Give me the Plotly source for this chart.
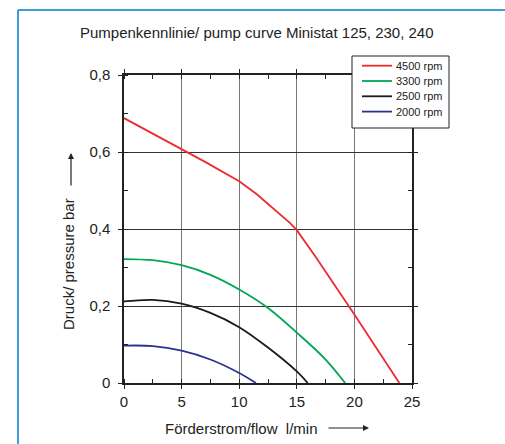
import plotly.graph_objects as go

# Data
x_4500 = [0, 5, 7, 10, 11.5, 14.4, 15, 16.6, 20, 23.9]
y_4500 = [0.688, 0.608, 0.575, 0.524, 0.491, 0.416, 0.397, 0.329, 0.178, 0.0]

x_3300 = [0, 2.5, 5, 7.5, 10, 12.5, 15, 17.5, 19.2]
y_3300 = [0.322, 0.319, 0.306, 0.281, 0.243, 0.195, 0.131, 0.061, 0.0]

x_2500 = [0, 2.5, 5, 7.5, 10, 12.5, 15, 15.95]
y_2500 = [0.212, 0.216, 0.206, 0.182, 0.145, 0.092, 0.030, 0.0]

x_2000 = [0, 2.5, 5, 7.5, 10, 11.45]
y_2000 = [0.097, 0.096, 0.084, 0.061, 0.026, 0.0]

names = ["4500 rpm", "3300 rpm", "2500 rpm", "2000 rpm"]
colors = ["#ee2a2f", "#00a651", "#1a1a1a", "#2b3192"]
xs_all = [x_4500, x_3300, x_2500, x_2000]
ys_all = [y_4500, y_3300, y_2500, y_2000]
shapes_kind = ["linear", "spline", "spline", "spline"]

y_tickvals = [0, 0.2, 0.4, 0.6, 0.8]
y_ticktext = ["0", "0,2", "0,4", "0,6", "0,8"]
x_tickvals = [0, 5, 10, 15, 20, 25]

W, H = 505, 444
ML, MR, MT, MB = 124, 93, 75, 61
PW, PH = W - ML - MR, H - MT - MB

def px(xp):
    return (xp - ML) / PW

def py(yp):
    return (H - MB - yp) / PH

fig = go.Figure()
for name, xs, ys, col, kind in zip(names, xs_all, ys_all, colors, shapes_kind):
    line = dict(color=col, width=1.8, shape=kind)
    if kind == "spline":
        line["smoothing"] = 1.0
    fig.add_trace(go.Scatter(x=xs, y=ys, name=name, mode="lines", line=line, showlegend=False))

font_family = "Liberation Sans, Arial, sans-serif"

fig.update_layout(
    width=W, height=H,
    margin=dict(l=ML, r=MR, t=MT, b=MB),
    paper_bgcolor="white", plot_bgcolor="white",
    font=dict(family=font_family, color="#222", size=15),
    showlegend=False,
    xaxis=dict(range=[0, 25], tickvals=x_tickvals, ticks="outside", ticklen=4,
               tickcolor="#222", showline=True, linecolor="#222", linewidth=1.5,
               mirror="ticks", showgrid=True, gridcolor="#777", gridwidth=1.3,
               zeroline=False, tickfont=dict(size=15),
               minor=dict(dtick=2.5, tick0=0, ticks="inside", ticklen=4, tickcolor="#222", showgrid=False)),
    yaxis=dict(range=[0, 0.8], tickvals=y_tickvals, ticktext=y_ticktext, ticks="outside", ticklen=4,
               tickcolor="#222", showline=True, linecolor="#222", linewidth=1.5,
               mirror="ticks", showgrid=True, gridcolor="#333", gridwidth=1,
               zeroline=False, tickfont=dict(size=15), ticklabelstandoff=5,
               minor=dict(dtick=0.1, tick0=0, ticks="inside", ticklen=4, tickcolor="#222", showgrid=False)),
)

# Legend (drawn manually to match compact spacing)
LX0, LX1, LY0, LY1 = 352, 449, 56, 128
fig.add_shape(type="rect", xref="paper", yref="paper", x0=px(LX0), x1=px(LX1), y0=py(LY0), y1=py(LY1),
              line=dict(color="#222", width=1), fillcolor="white", layer="above")
for i, (name, col) in enumerate(zip(names, colors)):
    yy = 65.7 + i * 15.3
    fig.add_shape(type="line", xref="paper", yref="paper", x0=px(362), x1=px(392), y0=py(yy), y1=py(yy),
                  line=dict(color=col, width=1.8), layer="above")
    fig.add_annotation(text=name, xref="paper", yref="paper", x=px(394), y=py(yy),
                       xanchor="left", yanchor="middle", showarrow=False,
                       font=dict(size=11, color="#222"))

# Title
fig.add_annotation(text="Pumpenkennlinie/ pump curve Ministat 125, 230, 240",
                   xref="paper", yref="paper", x=px(257), y=py(32),
                   xanchor="center", yanchor="middle", showarrow=False,
                   font=dict(size=15, color="#222"))
# X axis title
fig.add_annotation(text="Förderstrom/flow  l/min",
                   xref="paper", yref="paper", x=px(163), y=py(428),
                   xanchor="left", yanchor="middle", showarrow=False,
                   font=dict(size=15, color="#222"))
fig.add_annotation(text="", xref="paper", yref="paper", x=px(369), y=py(428),
                   ax=-42, ay=0, showarrow=True, arrowhead=2, arrowsize=1,
                   arrowwidth=1.2, arrowcolor="#222")
# Y axis title
fig.add_annotation(text="Druck/ pressure bar",
                   xref="paper", yref="paper", x=px(68), y=py(264),
                   xanchor="center", yanchor="middle", showarrow=False, textangle=-90,
                   font=dict(size=15, color="#222"))
fig.add_annotation(text="", xref="paper", yref="paper", x=px(71), y=py(153),
                   ax=0, ay=34, showarrow=True, arrowhead=2, arrowsize=1,
                   arrowwidth=1.2, arrowcolor="#222")

# Blue frame (left and top edges)
fig.add_shape(type="line", xref="paper", yref="paper", x0=px(18), x1=px(18), y0=py(10), y1=py(460),
              line=dict(color="#3b9fdc", width=2))
fig.add_shape(type="line", xref="paper", yref="paper", x0=px(18), x1=px(520), y0=py(10), y1=py(10),
              line=dict(color="#3b9fdc", width=2))

fig.write_html("out.html")
